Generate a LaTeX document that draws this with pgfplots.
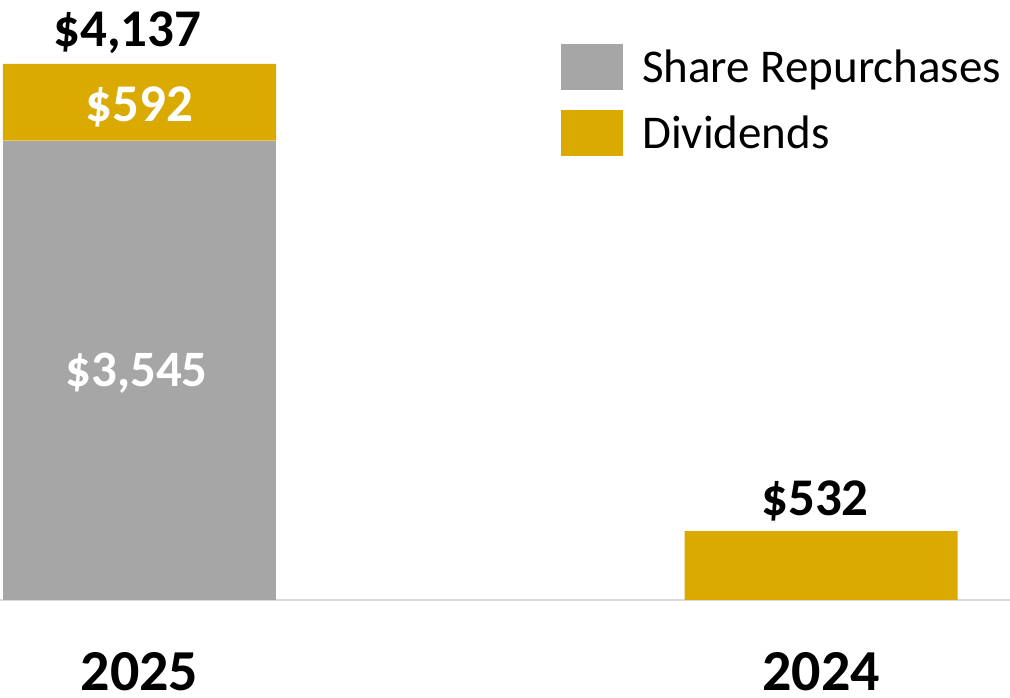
\documentclass[border=0pt]{standalone}
\usepackage{pgfplots}
\pgfplotsset{compat=1.18}
\usepackage{fontspec}
\setmainfont{Carlito}
\definecolor{repgray}{HTML}{A6A6A6}
\definecolor{divgold}{HTML}{DAAA00}
\definecolor{axgray}{HTML}{D9D9D9}
\begin{document}
\begin{tikzpicture}
\useasboundingbox (0,-98pt) rectangle (1010pt,600pt);
\begin{axis}[
  at={(0,0)}, anchor=south west,
  scale only axis, width=1010pt, height=600pt,
  xmin=-0.2047, xmax=1.2773, ymin=0, ymax=4631,
  ybar stacked, bar width=0.4006,
  axis y line=none, axis x line=bottom,
  x axis line style={-, axgray, line width=2pt},
  xtick={0,1}, xticklabels={2025,2024}, major tick length=0pt, ytick=\empty,
  xticklabel style={font=\bfseries\fontsize{58}{58}\selectfont, anchor=base, yshift=-91pt, inner sep=0pt},
  clip=false,
  legend style={at={(rel axis cs:0.5554,0.9267)}, anchor=north west, draw=none, fill=none,
    inner sep=0pt, row sep=20pt, font=\fontsize{47}{47}\selectfont,
    nodes={inner sep=0pt},
    /tikz/every odd column/.append style={column sep=19pt}},
  legend cell align=left,
]
\addplot[fill=repgray, draw=none, area legend,
  legend image code/.code={\fill[repgray] (0pt,-23pt) rectangle (62pt,23pt);}]
  coordinates {(0,3545) (1,0)};
\addplot[fill=divgold, draw=none, area legend,
  legend image code/.code={\fill[divgold] (0pt,-23pt) rectangle (62pt,23pt);}]
  coordinates {(0,592) (1,532)};
\legend{Share Repurchases, Dividends}
\coordinate (top25) at (axis cs:0,4137);
\coordinate (base25) at (axis cs:0,0);
\coordinate (top24) at (axis cs:1,532);
\end{axis}
\node[anchor=base, font=\bfseries\fontsize{53}{53}\selectfont, text=black, xshift=-12pt, yshift=17pt] at (top25) {\$4,137};
\node[anchor=base, font=\bfseries\fontsize{53}{53}\selectfont, text=white, yshift=-58pt] at (top25) {\$592};
\node[anchor=base, font=\bfseries\fontsize{51}{51}\selectfont, text=white, xshift=-3pt, yshift=213pt] at (base25) {\$3,545};
\node[anchor=base, font=\bfseries\fontsize{53}{53}\selectfont, text=black, xshift=-6pt, yshift=16pt] at (top24) {\$532};
\end{tikzpicture}
\end{document}
